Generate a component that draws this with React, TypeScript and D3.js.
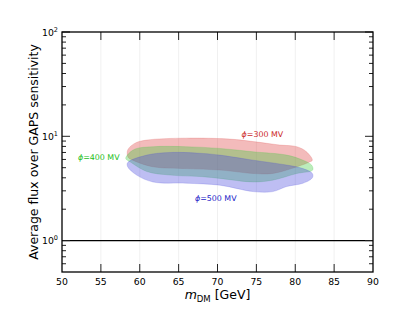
import React, { useEffect, useRef } from "react";
import * as d3 from "d3";

// x ticks (GeV) and y decades
const xTicks = [50, 55, 60, 65, 70, 75, 80, 85, 90];
const yDecades = [1, 10, 100];

// band edges: [m_DM, flux ratio]
const upper300 = [[58.45, 7.4], [59.4, 8.6], [60.9, 9.2], [66.0, 9.6], [71.6, 9.4], [74.6, 8.9], [78.0, 8.25], [80.2, 7.95], [81.45, 7.1], [82.2, 5.9]];
const lower300 = [[81.9, 5.7], [80.2, 5.1], [77.1, 4.4], [74.6, 4.4], [70.3, 4.75], [66.0, 4.9], [61.7, 5.1], [59.1, 5.9], [58.5, 6.3]];

const upper400 = [[58.4, 6.6], [59.4, 7.55], [61.7, 7.95], [66.0, 7.95], [70.3, 7.65], [74.6, 7.1], [78.9, 6.6], [81.0, 5.9], [82.1, 5.3], [82.25, 4.75]];
const lower400 = [[80.2, 4.4], [77.1, 3.8], [74.6, 3.65], [70.3, 3.95], [68.1, 4.1], [63.9, 4.25], [60.9, 4.6], [58.75, 5.7], [58.2, 6.1]];

const upper500 = [[58.45, 5.6], [60.9, 6.6], [63.9, 7.0], [68.1, 6.85], [70.3, 6.6], [74.6, 5.9], [78.9, 5.3], [81.0, 4.9], [82.2, 4.4]];
const lower500 = [[82.2, 4.0], [81.0, 3.55], [78.9, 3.3], [77.1, 2.95], [74.6, 2.95], [70.3, 3.4], [66.0, 3.55], [61.7, 3.65], [59.6, 4.25], [58.45, 5.1]];

const bands = [
  { label: "300", upper: upper300, lower: lower300, fill: "rgb(220,60,60)", text: "#cc1f1f", lx: 73.1, lv: 9.8 },
  { label: "400", upper: upper400, lower: lower400, fill: "rgb(60,200,60)", text: "#22c022", lx: 52.05, lv: 5.95 },
  { label: "500", upper: upper500, lower: lower500, fill: "rgb(70,70,220)", text: "#2424c8", lx: 67.1, lv: 2.42 },
];

const App = () => {
  const ref = useRef<SVGSVGElement>(null);

  useEffect(() => {
    const width = 415;
    const height = 320;
    const margin = { top: 32, right: 42, bottom: 48, left: 62 };
    const svg = d3.select(ref.current);
    svg.selectAll("*").remove();

    const x = d3.scaleLinear().domain([50, 90]).range([margin.left, width - margin.right]);
    const y = d3.scaleLog().domain([0.5, 100]).range([height - margin.bottom, margin.top]);

    const font = "DejaVu Sans";

    // faint vertical grid
    svg.append("g")
      .selectAll("line")
      .data(xTicks.slice(1, -1))
      .join("line")
      .attr("x1", (d) => x(d)).attr("x2", (d) => x(d))
      .attr("y1", y(100)).attr("y2", y(0.5))
      .attr("stroke", "#ececec").attr("stroke-width", 0.8);

    // bands
    const line = d3.line<number[]>()
      .x((d) => x(d[0]))
      .y((d) => y(d[1]))
      .curve(d3.curveCatmullRomClosed.alpha(0.5));

    svg.append("g")
      .selectAll("path")
      .data(bands)
      .join("path")
      .attr("d", (b) => line([...b.upper, ...b.lower]))
      .attr("fill", (b) => b.fill)
      .attr("fill-opacity", 0.35)
      .attr("stroke", (b) => b.fill)
      .attr("stroke-opacity", 0.25)
      .attr("stroke-width", 0.8);

    // y = 1 line
    svg.append("line")
      .attr("x1", x(50)).attr("x2", x(90))
      .attr("y1", y(1)).attr("y2", y(1))
      .attr("stroke", "#000").attr("stroke-width", 1.2);

    // ticks
    const axisG = svg.append("g").attr("stroke", "#222").attr("stroke-width", 1);
    xTicks.slice(1, -1).forEach((t) => {
      axisG.append("line").attr("x1", x(t)).attr("x2", x(t)).attr("y1", y(0.5)).attr("y2", y(0.5) - 8);
      axisG.append("line").attr("x1", x(t)).attr("x2", x(t)).attr("y1", y(100)).attr("y2", y(100) + 8);
    });
    const minor: number[] = [];
    [0.1, 1, 10].forEach((dec) => {
      for (let k = 2; k <= 9; k++) {
        const v = dec * k;
        if (v > 0.5 && v < 100) minor.push(v);
      }
    });
    minor.forEach((v) => {
      axisG.append("line").attr("x1", x(50)).attr("x2", x(50) + 4).attr("y1", y(v)).attr("y2", y(v));
      axisG.append("line").attr("x1", x(90)).attr("x2", x(90) - 4).attr("y1", y(v)).attr("y2", y(v));
    });
    yDecades.forEach((v) => {
      axisG.append("line").attr("x1", x(50)).attr("x2", x(50) + 8).attr("y1", y(v)).attr("y2", y(v));
      axisG.append("line").attr("x1", x(90)).attr("x2", x(90) - 8).attr("y1", y(v)).attr("y2", y(v));
    });

    // frame
    svg.append("rect")
      .attr("x", x(50)).attr("y", y(100))
      .attr("width", x(90) - x(50)).attr("height", y(0.5) - y(100))
      .attr("fill", "none").attr("stroke", "#000").attr("stroke-width", 1.3);

    // x tick labels
    svg.append("g")
      .selectAll("text")
      .data(xTicks)
      .join("text")
      .attr("x", (d) => x(d))
      .attr("y", y(0.5) + 12.5)
      .attr("text-anchor", "middle")
      .attr("font-family", font)
      .attr("font-size", 9.3)
      .text((d) => d);

    // y tick labels 10^n
    yDecades.forEach((v) => {
      const t = svg.append("text")
        .attr("x", x(50) - 4)
        .attr("y", y(v) + 3.5)
        .attr("text-anchor", "end")
        .attr("font-family", font)
        .attr("font-size", 9.3);
      t.append("tspan").text("10");
      t.append("tspan").attr("dy", -4).attr("font-size", 6.5).text(Math.round(Math.log10(v)));
    });

    // axis titles
    svg.append("text")
      .attr("transform", `translate(38,${(y(100) + y(0.5)) / 2}) rotate(-90)`)
      .attr("text-anchor", "middle")
      .attr("font-family", font)
      .attr("font-size", 12.5)
      .text("Average flux over GAPS sensitivity");

    const xl = svg.append("text")
      .attr("x", (x(50) + x(90)) / 2)
      .attr("y", y(0.5) + 27)
      .attr("text-anchor", "middle")
      .attr("font-family", font)
      .attr("font-size", 12.5);
    xl.append("tspan").attr("font-style", "italic").text("m");
    xl.append("tspan").attr("dy", 2.5).attr("font-size", 8.5).text("DM");
    xl.append("tspan").attr("dy", -2.5).text(" [GeV]");

    // band labels
    bands.forEach((b) => {
      const t = svg.append("text")
        .attr("x", x(b.lx))
        .attr("y", y(b.lv))
        .attr("font-family", font)
        .attr("font-size", 7.9)
        .attr("fill", b.text);
      t.append("tspan").attr("font-style", "italic").text("ϕ");
      t.append("tspan").text(`=${b.label} MV`);
    });
  }, []);

  return (
    <svg
      ref={ref}
      width={415}
      height={320}
      style={{ position: "absolute", left: 0, top: 0, background: "#fff" }}
    />
  );
};

export default App;
